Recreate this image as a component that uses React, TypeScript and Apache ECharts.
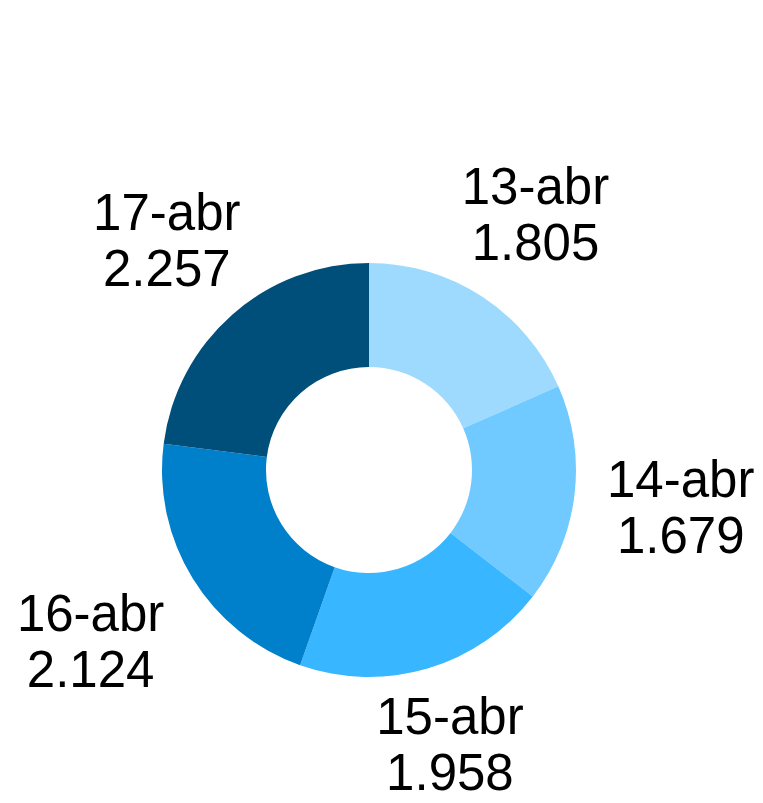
import React, { useEffect, useRef } from "react";
import * as echarts from "echarts";

const categories = ["13-abr", "14-abr", "15-abr", "16-abr", "17-abr"];
const values = [1805, 1679, 1958, 2124, 2257];
const valueLabels = ["1.805", "1.679", "1.958", "2.124", "2.257"];
const colors = ["#9DDAFE", "#70CAFF", "#38B6FF", "#0080CB", "#004F7A"];

// layout: distance of each label's centre from the pie centre (px)
const labelDistance = [305, 314, 286, 327, 306];

const CX = 369;
const CY = 470;
const R_IN = 103;
const R_OUT = 207;

export default function App() {
  const ref = useRef<HTMLDivElement>(null);
  useEffect(() => {
    if (!ref.current) return;
    const chart = echarts.init(ref.current, null, { renderer: "svg" });
    const total = values.reduce((a, b) => a + b, 0);
    const mids: number[] = [];
    let cum = 0;
    values.forEach((v) => {
      mids.push(((cum + v / 2) / total) * Math.PI * 2);
      cum += v;
    });
    chart.setOption({
      animation: false,
      backgroundColor: "#ffffff",
      series: [
        {
          type: "pie",
          center: [CX, CY],
          radius: [R_IN, R_OUT],
          startAngle: 90,
          clockwise: true,
          avoidLabelOverlap: false,
          labelLine: { show: false },
          label: {
            show: true,
            position: "outside",
            fontFamily: "'Liberation Sans', Arial, sans-serif",
            fontSize: 51,
            lineHeight: 56,
            color: "#000000",
            align: "center",
            formatter: (p: any) => `${categories[p.dataIndex]}\n${valueLabels[p.dataIndex]}`,
          },
          labelLayout: (p: any) => {
            const a = mids[p.dataIndex];
            const d = labelDistance[p.dataIndex];
            return {
              x: CX + d * Math.sin(a),
              y: CY - d * Math.cos(a),
              align: "center",
              verticalAlign: "middle",
            };
          },
          data: categories.map((name, i) => ({
            name,
            value: values[i],
            itemStyle: { color: colors[i] },
          })),
        },
      ],
    });
    return () => chart.dispose();
  }, []);
  return (
    <div
      ref={ref}
      style={{ position: "absolute", left: 0, top: 0, width: 763, height: 803 }}
    />
  );
}
